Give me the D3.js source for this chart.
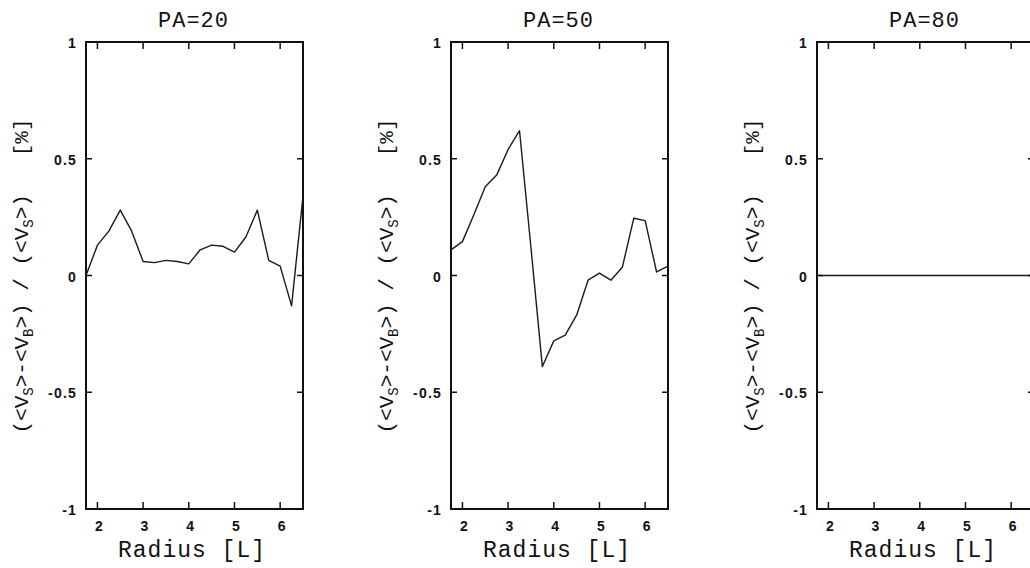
<!DOCTYPE html>
<html>
<head>
<meta charset="utf-8">
<script src="https://cdn.jsdelivr.net/npm/d3@7"></script>
<style>
  body { margin: 0; background: #fff; }
  svg { display: block; }
  .title, .xlabel, .ylabel { font-family: "Liberation Mono", "Courier New", monospace; fill: #111; }
  .tick-label { font-family: "Liberation Sans", Arial, sans-serif; font-weight: bold; font-size: 14px; fill: #111; letter-spacing: 1.2px; }
</style>
</head>
<body>
<div id="chart"></div>
<script>
// Data
const radius = [1.75, 2.0, 2.25, 2.5, 2.75, 3.0, 3.25, 3.5, 3.75, 4.0, 4.25, 4.5, 4.75, 5.0, 5.25, 5.5, 5.75, 6.0, 6.25, 6.5];
const pa20 = [0.0, 0.13, 0.19, 0.28, 0.19, 0.06, 0.055, 0.065, 0.06, 0.05, 0.11, 0.13, 0.125, 0.10, 0.165, 0.28, 0.065, 0.04, -0.13, 0.34];
const pa50 = [0.11, 0.145, 0.26, 0.38, 0.43, 0.54, 0.62, 0.12, -0.39, -0.28, -0.255, -0.17, -0.02, 0.01, -0.02, 0.035, 0.245, 0.235, 0.015, 0.04];
const pa80 = [0, 0, 0, 0, 0, 0, 0, 0, 0, 0, 0, 0, 0, 0, 0, 0, 0, 0, 0, 0];
const titles = ["PA=20", "PA=50", "PA=80"];
const xTicks = [2, 3, 4, 5, 6];
const yTicks = [1, 0.5, 0, -0.5, -1];
const yTickLabels = ["1", "0.5", "0", "-0.5", "-1"];

const series = [pa20, pa50, pa80];

// Layout
const W = 1030, H = 568;
const panelLefts = [86, 451, 817];
const panelWidth = 217;
const plotTop = 42, plotBottom = 509;

const svg = d3.select("#chart").append("svg")
  .attr("width", W)
  .attr("height", H);

const y = d3.scaleLinear().domain([-1, 1]).range([plotBottom, plotTop]);

series.forEach(function (values, i) {
  const left = panelLefts[i];
  const x = d3.scaleLinear().domain([1.75, 6.5]).range([left, left + panelWidth]);
  const g = svg.append("g").attr("class", "panel");

  // Data line
  const line = d3.line()
    .x((d, j) => x(radius[j]))
    .y(d => y(d));
  g.append("path")
    .datum(values)
    .attr("d", line)
    .attr("fill", "none")
    .attr("stroke", "#1a1a1a")
    .attr("stroke-width", 1.4)
    .attr("stroke-linejoin", "round");

  // Frame
  g.append("rect")
    .attr("x", left)
    .attr("y", plotTop)
    .attr("width", panelWidth)
    .attr("height", plotBottom - plotTop)
    .attr("fill", "none")
    .attr("stroke", "#111")
    .attr("stroke-width", 2);

  // x ticks, inward on bottom and top
  g.selectAll(".xt-b").data(xTicks).join("line")
    .attr("class", "xt-b")
    .attr("x1", d => x(d)).attr("x2", d => x(d))
    .attr("y1", plotBottom).attr("y2", plotBottom - 7)
    .attr("stroke", "#111").attr("stroke-width", 1.5);
  g.selectAll(".xt-t").data(xTicks).join("line")
    .attr("class", "xt-t")
    .attr("x1", d => x(d)).attr("x2", d => x(d))
    .attr("y1", plotTop).attr("y2", plotTop + 7)
    .attr("stroke", "#111").attr("stroke-width", 1.5);

  // y ticks, inward on left and right
  g.selectAll(".yt-l").data(yTicks).join("line")
    .attr("class", "yt-l")
    .attr("x1", left).attr("x2", left + 6)
    .attr("y1", d => y(d)).attr("y2", d => y(d))
    .attr("stroke", "#111").attr("stroke-width", 1.5);
  g.selectAll(".yt-r").data(yTicks).join("line")
    .attr("class", "yt-r")
    .attr("x1", left + panelWidth).attr("x2", left + panelWidth - 6)
    .attr("y1", d => y(d)).attr("y2", d => y(d))
    .attr("stroke", "#111").attr("stroke-width", 1.5);

  // tick labels
  g.selectAll(".xl").data(xTicks).join("text")
    .attr("class", "tick-label xl")
    .attr("x", d => x(d) + 2)
    .attr("y", 531)
    .attr("text-anchor", "middle")
    .text(d => d);
  g.selectAll(".yl").data(yTicks).join("text")
    .attr("class", "tick-label yl")
    .attr("x", left - 9)
    .attr("y", d => y(d) + 6)
    .attr("text-anchor", "end")
    .text((d, j) => yTickLabels[j]);

  // title
  g.append("text")
    .attr("class", "title")
    .attr("x", left + panelWidth / 2 - 1)
    .attr("y", 27)
    .attr("text-anchor", "middle")
    .style("font-size", "22px")
    .style("letter-spacing", "1px")
    .text(titles[i]);

  // x label
  g.append("text")
    .attr("class", "xlabel")
    .attr("x", left + 106)
    .attr("y", 557)
    .attr("text-anchor", "middle")
    .style("font-size", "23px")
    .style("letter-spacing", "1px")
    .text("Radius [L]");

  // y label with subscripts
  const yl = g.append("text")
    .attr("class", "ylabel")
    .attr("transform", "translate(" + (left - 58) + "," + 276 + ") rotate(-90)")
    .attr("text-anchor", "middle")
    .style("font-size", "21px");
  const parts = [
    ["(<V", 0], ["S", 1], [">-<V", 0], ["B", 1], [">) / (<V", 0], ["S", 1], [">)\u00a0\u00a0\u00a0[%]", 0]
  ];
  let shifted = false;
  parts.forEach(function (p) {
    const t = yl.append("tspan").text(p[0]);
    if (p[1] && !shifted) { t.attr("dy", 5).style("font-size", "14px"); shifted = true; }
    else if (!p[1] && shifted) { t.attr("dy", -5); shifted = false; }
  });
});
</script>
</body>
</html>
